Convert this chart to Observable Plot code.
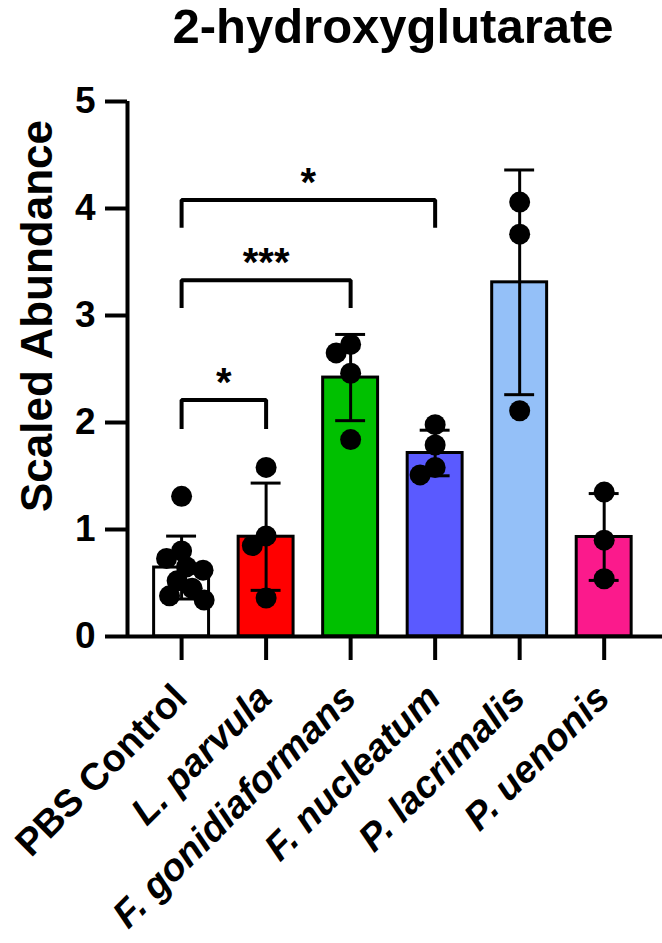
<!DOCTYPE html>
<html>
<head>
<meta charset="utf-8">
<script src="https://cdn.jsdelivr.net/npm/d3@7"></script>
<script src="https://cdn.jsdelivr.net/npm/@observablehq/plot@0.6"></script>
<style>
  html, body { margin: 0; padding: 0; background: #fff; }
  body { width: 662px; height: 943px; overflow: hidden; font-family: "Liberation Sans", Arial, sans-serif; }
  #title { height: 56px; padding-left: 124px; text-align: center; font-weight: bold; font-size: 49px; line-height: 56px; color: #000; margin-top: -2px; }
  #chart svg { display: block; }
</style>
</head>
<body>
<div id="title">2-hydroxyglutarate</div>
<div id="chart"></div>
<script>
// ---- data ----
const categories = ["PBS Control", "L. parvula", "F. gonidiaformans", "F. nucleatum", "P. lacrimalis", "P. uenonis"];
const barColors = ["#ffffff", "#ff0000", "#00c000", "#5a5aff", "#94c0f8", "#fb1a8c"];
const pbsControl = [1.31, 0.80, 0.73, 0.65, 0.62, 0.52, 0.45, 0.38, 0.34];
const lParvula = [1.58, 0.94, 0.85, 0.36];
const fGonidiaformans = [2.73, 2.65, 2.46, 1.84];
const fNucleatum = [1.98, 1.79, 1.58, 1.51];
const pLacrimalis = [4.06, 3.76, 2.11];
const pUenonis = [1.35, 0.90, 0.54];
const yTicks = [0, 1, 2, 3, 4, 5];
const yLabel = "Scaled Abundance";
// significance brackets
const bracketFrom = [0, 0, 0];
const bracketTo = [1, 2, 3];
const bracketTop = [2.21, 3.33, 4.08];
const bracketLegEnd = [1.94, 3.07, 3.82];
const bracketLabels = ["*", "***", "*"];

// ---- layout ----
const W = 662, H = 889;
const mL = 127, mR = 0, mT = 47, mB = 307;
const xDomain = [-0.64, 5.69];
const pxPerX = (W - mL - mR) / (xDomain[1] - xDomain[0]);
const pxPerY = (H - mT - mB) / 5;
const dotR = 10.5;

const groups = [pbsControl, lParvula, fGonidiaformans, fNucleatum, pLacrimalis, pUenonis];

const summary = groups.map((vals, i) => ({
  i, name: categories[i], color: barColors[i],
  mean: d3.mean(vals), sd: d3.deviation(vals)
}));

// simple beeswarm to spread overlapping dots horizontally
function swarm(vals) {
  const minD = dotR * 2 * 0.8;
  const order = d3.range(vals.length).sort((a, b) => vals[b] - vals[a]);
  const placed = [];
  const offs = new Array(vals.length).fill(0);
  for (const k of order) {
    const y = vals[k] * pxPerY;
    const iv = placed.filter(p => Math.abs(p.y - y) < minD).map(p => {
      const w = Math.sqrt(minD * minD - (p.y - y) ** 2);
      return [p.x - w, p.x + w];
    });
    const cands = [0, ...iv.flat()].sort((a, b) => Math.abs(a) - Math.abs(b) || a - b);
    let c = cands.find(c => iv.every(([a, b]) => !(c > a + 1e-6 && c < b - 1e-6)));
    placed.push({x: c, y});
    offs[k] = c;
  }
  return offs;
}

const points = groups.flatMap((vals, i) => {
  const offs = swarm(vals);
  return vals.map((v, k) => ({i, v, x: i + offs[k] / pxPerX}));
});

const brackets = bracketFrom.map((f, k) => ({
  k, from: f, to: bracketTo[k], top: bracketTop[k], leg: bracketLegEnd[k], label: bracketLabels[k]
}));
const bracketPath = brackets.flatMap(b => [
  {k: b.k, x: b.from, y: b.leg},
  {k: b.k, x: b.from, y: b.top},
  {k: b.k, x: b.to, y: b.top},
  {k: b.k, x: b.to, y: b.leg}
]);

const idx = d3.range(categories.length);

const chart = Plot.plot({
  width: W, height: H,
  marginLeft: mL, marginRight: mR, marginTop: mT, marginBottom: mB,
  style: {fontFamily: "'Liberation Sans', Arial, sans-serif", fontWeight: "bold", background: "transparent", color: "#000", overflow: "visible"},
  x: {domain: xDomain, axis: null},
  y: {domain: [0, 5], axis: null},
  color: {type: "identity"},
  marks: [
    Plot.rect(summary, {x1: d => d.i - 0.325, x2: d => d.i + 0.325, y1: 0, y2: "mean", fill: "color", stroke: "#000", strokeWidth: 3}),
    Plot.ruleX(summary, {x: "i", y1: d => d.mean - d.sd, y2: d => d.mean + d.sd, stroke: "#000", strokeWidth: 3}),
    Plot.ruleY(summary, {y: d => d.mean + d.sd, x1: d => d.i - 0.177, x2: d => d.i + 0.177, stroke: "#000", strokeWidth: 3}),
    Plot.ruleY(summary, {y: d => d.mean - d.sd, x1: d => d.i - 0.177, x2: d => d.i + 0.177, stroke: "#000", strokeWidth: 3}),
    Plot.dot(points, {x: "x", y: "v", r: dotR, fill: "#000", stroke: "none"}),
    Plot.line(bracketPath, {x: "x", y: "y", z: "k", stroke: "#000", strokeWidth: 4, strokeLinejoin: "miter", strokeLinecap: "butt"}),
    Plot.text(brackets, {x: d => (d.from + d.to) / 2, y: "top", text: "label", dy: -17, fontSize: 40, fontWeight: "bold", lineAnchor: "middle"}),
    Plot.ruleY([0], {x1: xDomain[0], x2: xDomain[1], stroke: "#000", strokeWidth: 4}),
    Plot.ruleX([xDomain[0]], {y1: 0, y2: 5, stroke: "#000", strokeWidth: 4}),
    Plot.axisY({ticks: yTicks, tickFormat: d3.format("d"), anchor: "left", tickSize: 22, tickPadding: 10, fontSize: 37, strokeWidth: 4, label: null}),
    Plot.axisX({ticks: idx, anchor: "bottom", tickSize: 24, tickFormat: () => "", strokeWidth: 4, label: null}),
    Plot.text(idx.filter(i => i === 0), {x: d => d, frameAnchor: "bottom", text: d => categories[d], rotate: -45, textAnchor: "end", lineAnchor: "middle", dx: -1, dy: 55, fontSize: 38, fontWeight: "bold"}),
    Plot.text(idx.filter(i => i > 0), {x: d => d, frameAnchor: "bottom", text: d => categories[d], rotate: -45, textAnchor: "end", lineAnchor: "middle", dx: -1, dy: 55, fontSize: 38, fontWeight: "bold", fontStyle: "italic"}),
    Plot.text([yLabel], {frameAnchor: "left", text: d => d, rotate: -90, textAnchor: "middle", dx: -90, dy: -53, fontSize: 44, fontWeight: "bold", lineAnchor: "middle"})
  ]
});
document.getElementById("chart").appendChild(chart);
</script>
</body>
</html>
